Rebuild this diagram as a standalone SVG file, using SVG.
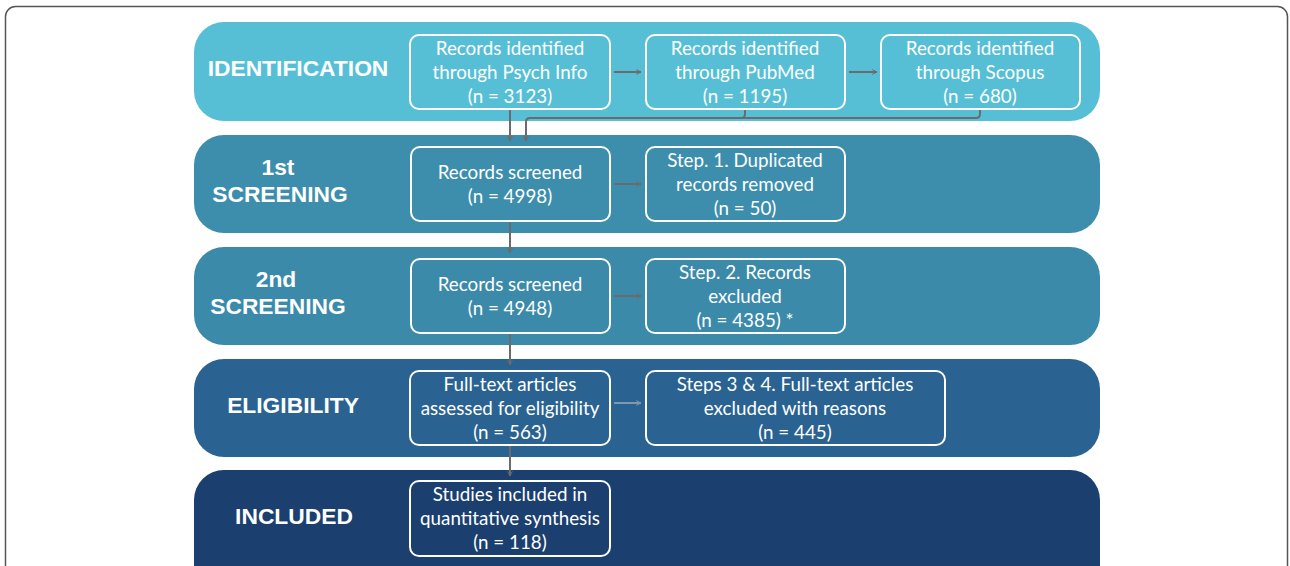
<svg xmlns="http://www.w3.org/2000/svg" width="1290" height="566" viewBox="0 0 1290 566">
<style>
.band{stroke:none}
.lab{font-family:"Liberation Sans",Arial,sans-serif;font-weight:bold;font-size:22.8px;fill:#ffffff;text-anchor:middle}
.box rect{fill:none;stroke:#ffffff;stroke-width:2}
.box text{font-family:"Lato","Open Sans",sans-serif;font-size:18.8px;fill:#ffffff;text-anchor:middle}
.con{fill:none;stroke:#6b6b6b;stroke-width:2}
.con.light{stroke:#7f98ad}
</style>
<defs>
<marker id="ah" viewBox="0 0 10 10" refX="9" refY="5" markerWidth="6" markerHeight="6" orient="auto" markerUnits="userSpaceOnUse">
<path d="M1,1 L9,5 L1,9" fill="none" stroke="#6b6b6b" stroke-width="1.6"/>
</marker>
<marker id="ahl" viewBox="0 0 10 10" refX="9" refY="5" markerWidth="6" markerHeight="6" orient="auto" markerUnits="userSpaceOnUse">
<path d="M1,1 L9,5 L1,9" fill="none" stroke="#7f98ad" stroke-width="1.6"/>
</marker>
</defs>
<rect x="5.5" y="6.5" width="1282" height="580" rx="10" fill="#ffffff" stroke="#555555" stroke-width="1.5"/>

<g id="band-identification"><rect class="band" x="194" y="22" width="906" height="99" rx="30" fill="#56bfd6"/><text class="lab" x="298" y="76">IDENTIFICATION</text></g>
<g id="band-screening1"><rect class="band" x="194" y="135" width="906" height="98" rx="30" fill="#3d8eac"/><text class="lab" x="278" y="175">1st</text><text class="lab" x="280" y="202">SCREENING</text></g>
<g id="band-screening2"><rect class="band" x="194" y="247" width="906" height="98" rx="30" fill="#3b8aa9"/><text class="lab" x="276" y="287">2nd</text><text class="lab" x="278" y="314">SCREENING</text></g>
<g id="band-eligibility"><rect class="band" x="194" y="359" width="906" height="98" rx="30" fill="#2a6391"/><text class="lab" x="293" y="413">ELIGIBILITY</text></g>
<g id="band-included"><rect class="band" x="194" y="470" width="906" height="130" rx="30" fill="#1b3f6f"/><text class="lab" x="294" y="524">INCLUDED</text></g>

<g id="connectors">
<path class="con" d="M614,72 L641,72" marker-end="url(#ah)"/>
<path class="con" d="M849,72 L877,72" marker-end="url(#ah)"/>
<path class="con" d="M510,110 L510,141" marker-end="url(#ah)"/>
<path class="con" d="M980,110 L980,114 Q980,118 976,118 L530,118 Q526,118 526,122 L526,141" marker-end="url(#ah)"/>
<path class="con" d="M745,110 L745,114 Q745,118 741,118"/>
<path class="con" d="M614,184 L641,184" marker-end="url(#ah)"/>
<path class="con" d="M510,222 L510,253" marker-end="url(#ah)"/>
<path class="con" d="M614,296 L641,296" marker-end="url(#ah)"/>
<path class="con" d="M510,334 L510,365" marker-end="url(#ah)"/>
<path class="con light" d="M614,403 L641,403" marker-end="url(#ahl)"/>
<path class="con" d="M510,446 L510,476" marker-end="url(#ah)"/>
</g>

<g id="n-psych" class="box"><rect x="410" y="35" width="200" height="74" rx="9"/><text x="510" y="55">Records identified</text><text x="510" y="79">through Psych Info</text><text x="510" y="103">(n = 3123)</text></g>
<g id="n-pubmed" class="box"><rect x="646" y="35" width="199" height="74" rx="9"/><text x="745" y="55">Records identified</text><text x="745" y="79">through PubMed</text><text x="745" y="103">(n = 1195)</text></g>
<g id="n-scopus" class="box"><rect x="881" y="35" width="199" height="74" rx="9"/><text x="980" y="55">Records identified</text><text x="980" y="79">through Scopus</text><text x="980" y="103">(n = 680)</text></g>

<g id="n-screen1" class="box"><rect x="411" y="147" width="199" height="74" rx="9"/><text x="510" y="179">Records screened</text><text x="510" y="203">(n = 4998)</text></g>
<g id="n-step1" class="box"><rect x="646" y="147" width="199" height="74" rx="9"/><text x="745" y="167">Step. 1. Duplicated</text><text x="745" y="191">records removed</text><text x="745" y="215">(n = 50)</text></g>

<g id="n-screen2" class="box"><rect x="411" y="259" width="199" height="74" rx="9"/><text x="510" y="291">Records screened</text><text x="510" y="315">(n = 4948)</text></g>
<g id="n-step2" class="box"><rect x="646" y="259" width="199" height="74" rx="9"/><text x="745" y="279">Step. 2. Records</text><text x="745" y="303">excluded</text><text x="745" y="327">(n = 4385) *</text></g>

<g id="n-fulltext" class="box"><rect x="410" y="371" width="200" height="74" rx="9"/><text x="510" y="391">Full-text articles</text><text x="510" y="415">assessed for eligibility</text><text x="510" y="439">(n = 563)</text></g>
<g id="n-step34" class="box"><rect x="646" y="371" width="299" height="74" rx="9"/><text x="795" y="391">Steps 3 &amp; 4. Full-text articles</text><text x="795" y="415">excluded with reasons</text><text x="795" y="439">(n = 445)</text></g>

<g id="n-included" class="box"><rect x="410" y="481" width="200" height="75" rx="9"/><text x="510" y="501">Studies included in</text><text x="510" y="525">quantitative synthesis</text><text x="510" y="549">(n = 118)</text></g>
</svg>
